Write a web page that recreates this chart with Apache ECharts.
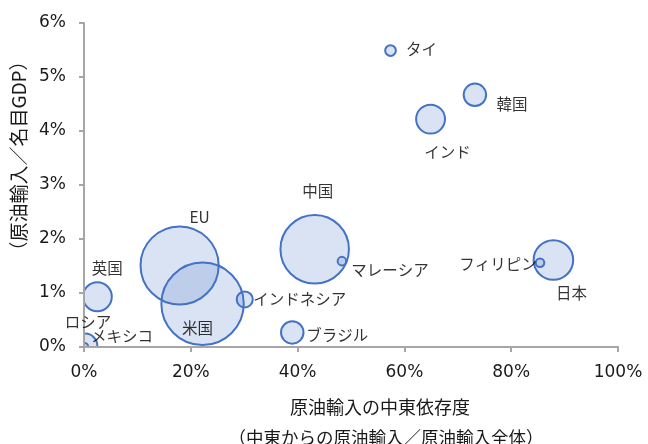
<!DOCTYPE html>
<html><head><meta charset="utf-8">
<script src="https://cdn.jsdelivr.net/npm/echarts@6/dist/echarts.min.js"></script>
<style>html,body{margin:0;padding:0;background:#fff}#c{width:648px;height:444px}</style>
</head><body><div id="c"></div>
<script>
// Countries
const countries = ['ロシア','メキシコ','英国','EU','米国','インドネシア','ブラジル','中国','マレーシア','フィリピン','日本','インド','韓国','タイ'];
// 原油輸入の中東依存度 (%)
const middleEastShare = [0.0, 0.2, 2.5, 17.9, 22.2, 30.1, 39.0, 43.2, 48.3, 85.4, 87.9, 64.9, 73.2, 57.4];
// 原油輸入／名目GDP (%)
const importToGdp = [0.0, 0.02, 0.93, 1.51, 0.80, 0.88, 0.27, 1.81, 1.59, 1.56, 1.61, 4.22, 4.67, 5.49];
// bubble size (import volume, relative)
const importVolume = [0.8, 2.3, 2.7, 7.3, 7.7, 1.5, 2.1, 6.4, 0.8, 0.8, 3.7, 2.7, 2.1, 1.0];
// tick labels
const xTicks = [0, 20, 40, 60, 80, 100];
const yTicks = [0, 1, 2, 3, 4, 5, 6];

// label placement (styling)
const labelOffsets = {
  'ロシア':[4,-25],'メキシコ':[37,-10],'英国':[10,-29],'EU':[20,-48],'米国':[-5,24],
  'インドネシア':[55,0],'ブラジル':[45,3],'中国':[3,-58],'マレーシア':[48,9],
  'フィリピン':[-42,1],'日本':[18,33],'インド':[17,33],'韓国':[37,9],'タイ':[31,-1]
};
const RADIUS_PER_UNIT = 5.35;
const GRID = {left:84, right:30, top:23, bottom:97};
const W = 648, H = 444;

const bubbleData = countries.map((n,i)=>[middleEastShare[i], importToGdp[i], importVolume[i]]);
const labelData = countries.map((n,i)=>({name:n, value:[middleEastShare[i], importToGdp[i]],
  label:{offset: labelOffsets[n]}}));

const chart = echarts.init(document.getElementById('c'), null, {renderer:'canvas'});
const tickFont = {fontFamily:'DejaVu Sans', fontSize:17, color:'#1a1a1a'};
const nameStyle = {fontFamily:'Noto Sans CJK JP', fontSize:18, fill:'#1a1a1a', align:'center', verticalAlign:'middle'};
chart.setOption({
  animation:false,
  grid:Object.assign({containLabel:false}, GRID),
  xAxis:{type:'value', min:xTicks[0], max:xTicks[xTicks.length-1], interval:20, z:10,
    axisLine:{lineStyle:{color:'#a6a6a6', width:2}},
    axisTick:{show:true, length:5, lineStyle:{color:'#a6a6a6', width:2}},
    splitLine:{show:false},
    axisLabel:Object.assign({margin:17, formatter:'{value}%'}, tickFont)},
  yAxis:{type:'value', min:yTicks[0], max:yTicks[yTicks.length-1], interval:1, z:10,
    axisLine:{show:true, lineStyle:{color:'#a6a6a6', width:2}},
    axisTick:{show:true, length:5, lineStyle:{color:'#a6a6a6', width:2}},
    splitLine:{show:false},
    axisLabel:Object.assign({margin:18, formatter:'{value}%'}, tickFont)},
  graphic:[
    // masks that hide bubble parts outside the plot area
    {type:'rect', z:5, silent:true, shape:{x:0, y:0, width:GRID.left-1, height:H}, style:{fill:'#fff'}},
    {type:'rect', z:5, silent:true, shape:{x:0, y:H-GRID.bottom+1, width:W, height:GRID.bottom}, style:{fill:'#fff'}},
    {type:'text', z:20, x:380, y:407, style:Object.assign({text:'原油輸入の中東依存度'}, nameStyle)},
    {type:'text', z:20, x:386, y:437, style:Object.assign({text:'（中東からの原油輸入／原油輸入全体）'}, nameStyle, {fontSize:17.5})},
    {type:'text', z:20, x:19, y:156, rotation:Math.PI/2, style:Object.assign({text:'（原油輸入／名目GDP）'}, nameStyle, {fontSize:19})}
  ],
  series:[
    {type:'custom', z:2, data:bubbleData, encode:{x:0,y:1},
      renderItem:function(params, api){
        const c = api.coord([api.value(0), api.value(1)]);
        const r = api.value(2)*RADIUS_PER_UNIT;
        return {type:'circle', shape:{cx:c[0], cy:c[1], r:r},
          style:{fill:'rgba(68,114,196,0.2)', stroke:'#4472C4', lineWidth:2}};
      }},
    {type:'scatter', clip:false, data:labelData, symbolSize:1, itemStyle:{color:'rgba(0,0,0,0)'},
      label:{show:true, position:'inside', formatter:'{b}', fontFamily:'Noto Sans CJK JP', fontSize:15.5, color:'#000', textBorderWidth:0},
      z:15}
  ]
});
</script></body></html>
